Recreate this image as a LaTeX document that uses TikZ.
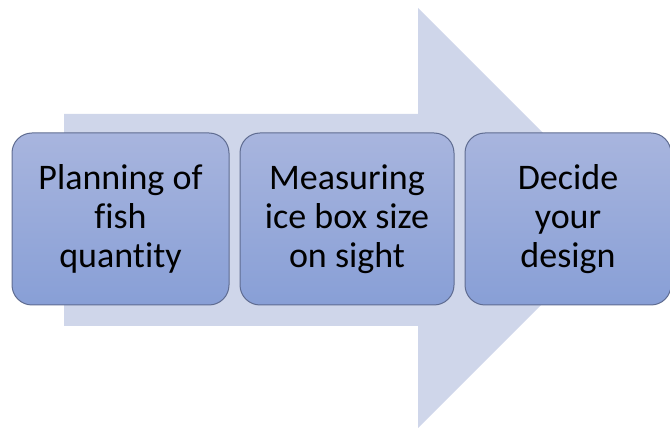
\documentclass[tikz,border=0pt]{standalone}
\usepackage{fontspec}
\setmainfont[Ligatures=NoCommon]{Carlito}
\usetikzlibrary{positioning}

\definecolor{arrowblue}{RGB}{207,214,234}
\definecolor{boxtop}{RGB}{168,181,222}
\definecolor{boxbottom}{RGB}{136,159,214}
\definecolor{boxline}{RGB}{95,108,145}

\begin{document}
\begin{tikzpicture}[x=1pt,y=-1pt,
 stepbox/.style={draw=boxline, line width=1pt, rounded corners=20pt,
  top color=boxtop, bottom color=boxbottom, minimum height=172pt,
  align=center, inner sep=0pt, font=\fontsize{36}{39}\selectfont}]
%\draw[help lines] (0,0) grid (670,430);
\useasboundingbox (0,0) rectangle (670,430);

% big arrow behind the steps
 \fill[arrowblue] (64,114) -- (418,114) -- (418,8) -- (628,218)
  -- (418,428) -- (418,326) -- (64,326) -- cycle;

% the three steps
 \node[stepbox, minimum width=217pt] (plan) at (120.5,219) {Planning of\\fish\\quantity};
 \node[stepbox, minimum width=214pt, right=10pt of plan] (measure) {Measuring\\ice box size\\on sight};
 \node[stepbox, minimum width=206pt, right=10pt of measure] (design) {Decide\\your\\design};

\end{tikzpicture}
\end{document}
